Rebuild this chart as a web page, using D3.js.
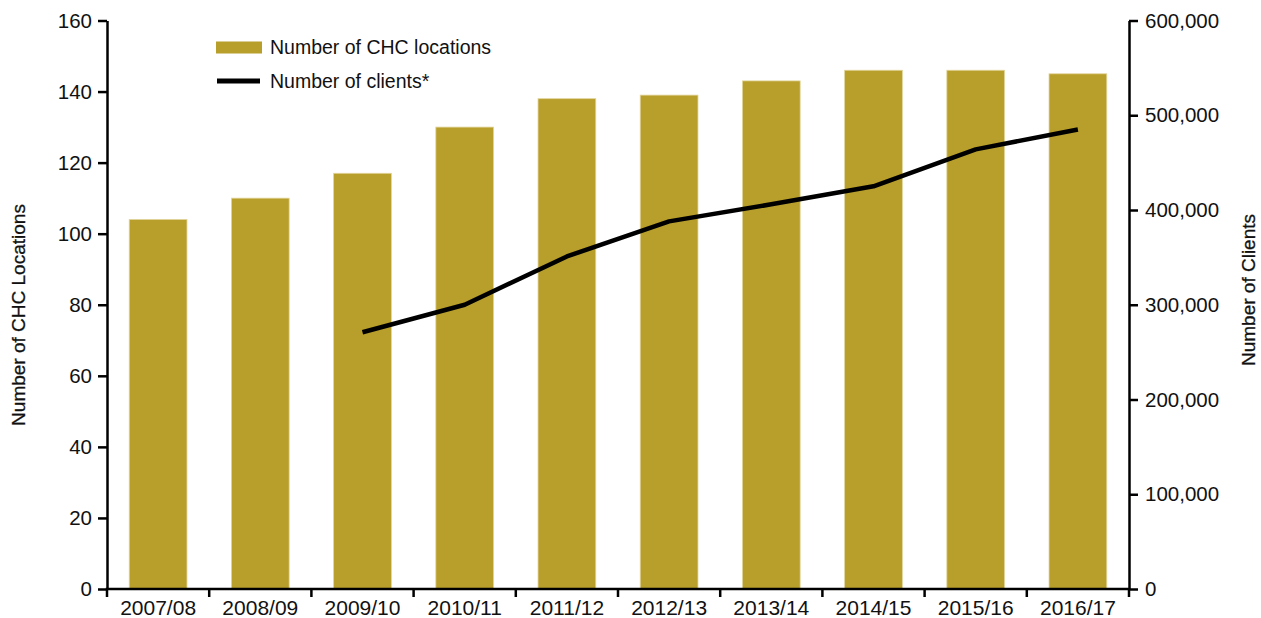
<!DOCTYPE html>
<html>
<head>
<meta charset="utf-8">
<script src="https://cdn.jsdelivr.net/npm/d3@7/dist/d3.min.js"></script>
<style>
  html, body { margin: 0; padding: 0; background: #fff; }
  svg { display: block; }
  text { font-family: "Liberation Sans", Arial, sans-serif; fill: #111; }
</style>
</head>
<body>
<svg id="chart" width="1261" height="618"></svg>
<script>
// Fiscal years
const years = ["2007/08", "2008/09", "2009/10", "2010/11", "2011/12",
               "2012/13", "2013/14", "2014/15", "2015/16", "2016/17"];
// Number of CHC locations (bars, left axis)
const locations = [104, 110, 117, 130, 138, 139, 143, 146, 146, 145];
// Number of clients (line, right axis); null where not reported
const clients = [null, null, 271000, 300000, 351000, 388000, 406000, 425000, 464000, 485000];
// Axis ticks
const leftTicks = [0, 20, 40, 60, 80, 100, 120, 140, 160];
const rightTicks = [0, 100000, 200000, 300000, 400000, 500000, 600000];

const svg = d3.select("#chart");
const plotLeft = 107, plotRight = 1129, plotTop = 20.5, plotBottom = 589;

const xCat = d3.scaleBand().domain(years).range([plotLeft, plotRight]).padding(0);
const x = d3.scaleBand().domain(years).range([plotLeft, plotRight])
  .paddingInner(0.435).paddingOuter(0.2175);
const yL = d3.scaleLinear().domain([0, 160]).range([plotBottom, plotTop]);
const yR = d3.scaleLinear().domain([0, 600000]).range([plotBottom, plotTop]);

const barColor = "#b89e2a";

// Bars
svg.append("g").selectAll("rect")
  .data(years.map((y, i) => ({ year: y, v: locations[i] })))
  .join("rect")
  .attr("x", d => x(d.year))
  .attr("width", x.bandwidth())
  .attr("y", d => yL(d.v))
  .attr("height", d => yL(0) - yL(d.v))
  .attr("fill", barColor)
  .attr("stroke", "#e2d59c")
  .attr("stroke-width", 0.8);

// Clients line
const pts = years.map((y, i) => ({ year: y, v: clients[i] })).filter(d => d.v !== null);
svg.append("path")
  .datum(pts)
  .attr("fill", "none")
  .attr("stroke", "#000")
  .attr("stroke-width", 4.5)
  .attr("stroke-linejoin", "round")
  .attr("d", d3.line()
    .x(d => x(d.year) + x.bandwidth() / 2)
    .y(d => yR(d.v)));

// Left axis
const gL = svg.append("g").attr("transform", `translate(${plotLeft},0)`)
  .call(d3.axisLeft(yL).tickValues(leftTicks).tickSize(9).tickPadding(6).tickSizeOuter(0));
// Right axis
const gR = svg.append("g").attr("transform", `translate(${plotRight},0)`)
  .call(d3.axisRight(yR).tickValues(rightTicks).tickSize(9).tickPadding(7).tickSizeOuter(0)
    .tickFormat(d3.format(",")));
// Bottom axis: labels at band centres
const gB = svg.append("g").attr("transform", `translate(0,${plotBottom})`)
  .call(d3.axisBottom(x).tickSize(0).tickPadding(11).tickSizeOuter(0));

[gL, gR, gB].forEach(g => {
  g.selectAll(".domain").attr("stroke", "#000").attr("stroke-width", 2.5);
  g.selectAll(".tick line").attr("stroke", "#000").attr("stroke-width", 2.5);
  g.selectAll(".tick text").style("font-size", "20.5px").attr("fill", "#111")
    .style("font-family", '"Liberation Sans", Arial, sans-serif');
});
gB.selectAll(".tick text").style("font-size", "21px");
gB.select(".domain").attr("d", `M${plotLeft - 1.25},0H${plotRight + 1.25}`);

// Category boundary ticks on the x axis
const bounds = years.map(y => xCat(y)).concat([plotRight]);
svg.append("g").selectAll("line")
  .data(bounds)
  .join("line")
  .attr("x1", d => d).attr("x2", d => d)
  .attr("y1", plotBottom).attr("y2", plotBottom + 8)
  .attr("stroke", "#000").attr("stroke-width", 2.5);

// Axis titles
svg.append("text")
  .attr("transform", `translate(25,315) rotate(-90)`)
  .attr("text-anchor", "middle")
  .style("font-size", "19px")
  .style("stroke", "#111").style("stroke-width", 0.3)
  .text("Number of CHC Locations");
svg.append("text")
  .attr("transform", `translate(1255,290) rotate(-90)`)
  .attr("text-anchor", "middle")
  .style("font-size", "19px")
  .style("stroke", "#111").style("stroke-width", 0.3)
  .text("Number of Clients");

// Legend
const lg = svg.append("g");
lg.append("rect").attr("x", 216).attr("y", 41.5).attr("width", 46).attr("height", 12).attr("fill", barColor);
lg.append("text").attr("x", 270).attr("y", 47.5).attr("dy", "0.35em")
  .style("font-size", "19.5px").text("Number of CHC locations");
lg.append("line").attr("x1", 217).attr("x2", 260).attr("y1", 81).attr("y2", 81)
  .attr("stroke", "#000").attr("stroke-width", 5);
lg.append("text").attr("x", 270).attr("y", 81).attr("dy", "0.35em")
  .style("font-size", "19.5px").text("Number of clients*");
</script>
</body>
</html>
